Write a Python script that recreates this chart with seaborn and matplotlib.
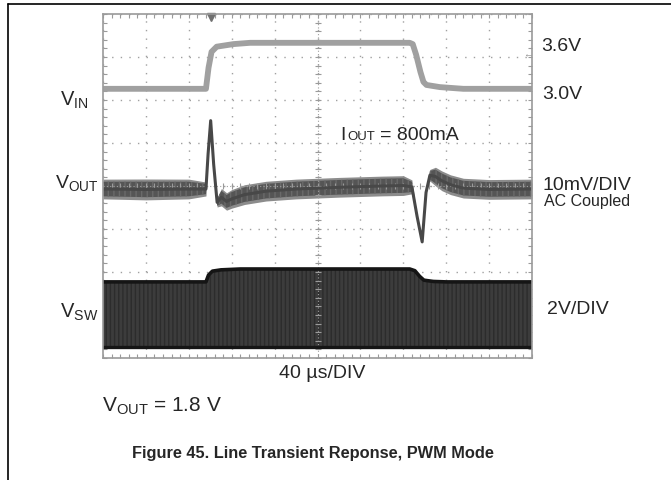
import numpy as np
import matplotlib
matplotlib.use("Agg")
import matplotlib.pyplot as plt
import seaborn as sns
from matplotlib.lines import Line2D

sns.set_style("white")
plt.rcParams['font.family'] = ['Liberation Sans', 'DejaVu Sans']

# ---- traces, in scope divisions (x: 0-10 div, y: 0-8 div) ----
t_vin = [0, 2.40, 2.46, 2.53, 2.65, 3.04, 3.43, 7.15, 7.22, 7.30, 7.40, 7.47, 7.54, 7.85, 8.4, 10]
v_vin = [6.26, 6.26, 6.75, 7.12, 7.24, 7.30, 7.33, 7.33, 7.30, 7.05, 6.65, 6.42, 6.35, 6.30, 6.26, 6.26]

t_out = [0, 1.0, 2.0, 2.40, 2.45, 2.51, 2.58, 2.66, 2.76, 2.88, 3.00, 3.3, 3.8, 4.5, 5.5,
         6.5, 7.0, 7.20, 7.32, 7.44, 7.53, 7.62, 7.75, 7.90, 8.1, 8.4, 9.0, 10]
v_out = [3.93, 3.92, 3.93, 3.93, 4.75, 5.52, 4.50, 3.62, 3.74, 3.64, 3.70, 3.80, 3.88, 3.93, 3.97,
         4.00, 4.01, 3.98, 3.30, 2.70, 3.85, 4.25, 4.22, 4.12, 4.03, 3.95, 3.92, 3.93]
out_noise = [0.17, 0.18, 0.17, 0.12, 0, 0, 0, 0.08, 0.15, 0.15, 0.16, 0.17, 0.17, 0.17, 0.17,
             0.17, 0.17, 0.12, 0, 0, 0, 0.10, 0.16, 0.17, 0.17, 0.17, 0.17, 0.17]

t_sw = [0, 2.40, 2.46, 2.55, 2.75, 3.2, 7.15, 7.27, 7.38, 7.48, 7.70, 8.0, 10]
sw_top = [1.77, 1.77, 1.93, 2.02, 2.05, 2.07, 2.07, 2.03, 1.90, 1.81, 1.78, 1.77, 1.77]
sw_bottom = 0.26

trigger_t = 2.52
vin_ref = 7.07

fig = plt.figure(figsize=(6.71, 4.80), dpi=100)
ax = fig.add_axes([103 / 671, 1 - 358 / 480, 429 / 671, 344 / 480])

# graticule
ax.set_xlim(0, 10)
ax.set_ylim(0, 8)
ax.set_xticks(np.arange(0, 11, 1))
ax.set_yticks(np.arange(0, 9, 1))
ax.set_xticks(np.arange(0, 10.01, 0.2), minor=True)
ax.set_yticks(np.arange(0, 8.01, 0.2), minor=True)
ax.tick_params(which='both', direction='in', length=3, width=0.8, color='#9a9a9a',
               top=True, right=True, bottom=True, left=True,
               labelbottom=False, labelleft=False)
ax.grid(True, which='major', linestyle=(0, (1, 5.2)), color='#a0a0a0', lw=1.0)
for s in ax.spines.values():
    s.set_color('#9a9a9a')
    s.set_linewidth(1.2)
ax.axvline(5, color='#a0a0a0', lw=0.8, ls=(0, (1, 2)))
ax.axhline(4, color='#a0a0a0', lw=0.8, ls=(0, (1, 2)))
minor_x = np.arange(0, 10.01, 0.2)
minor_y = np.arange(0, 8.01, 0.2)
ax.plot(np.full_like(minor_y, 5), minor_y, ls='none', marker='_', ms=4, mew=0.8, color='#9a9a9a')
ax.plot(minor_x, np.full_like(minor_x, 4), ls='none', marker='|', ms=4, mew=0.8, color='#9a9a9a')

# VSW switching band
ax.fill_between(t_sw, sw_bottom, sw_top, color='#3c3c3c', lw=0, hatch='||||',
                edgecolor='#2c2c2c')
sns.lineplot(x=t_sw, y=sw_top, ax=ax, color='#151515', lw=2.6, sort=False, estimator=None)
ax.axhline(sw_bottom, color='#151515', lw=2.4)

# VOUT noisy trace: lighter halo, darker core, then the centre line
vo = np.array(v_out)
nz = np.array(out_noise)
ax.fill_between(t_out, vo - 1.35 * nz, vo + 1.35 * nz, color='#8c8c8c', lw=0)
ax.fill_between(t_out, vo - nz, vo + nz, color='#555555', lw=0, hatch='|||',
                edgecolor='#6a6a6a')
sns.lineplot(x=t_out, y=v_out, ax=ax, color='#484848', lw=2.2, sort=False, estimator=None)

# VIN trace
sns.lineplot(x=t_vin, y=v_vin, ax=ax, color='#a0a0a0', lw=4.2, sort=False, estimator=None)

ax.plot(trigger_t, 7.93, marker='v', ms=6, color='#707070', clip_on=False)
ax.text(9.9, vin_ref, '\u2190', color='#909090', fontsize=7, ha='center', va='center')


def px(x, y):
    return x / 671, 1 - y / 480


# channel labels
fig.text(*px(60, 106), r'$\mathregular{V_{IN}}$', fontsize=14.5, va='baseline')
fig.text(*px(55, 188), r'$\mathregular{V_{OUT}}$', fontsize=14, va='baseline')
fig.text(*px(60, 318), r'$\mathregular{V_{SW}}$', fontsize=14.5, va='baseline')

fig.text(*px(541, 51), '3.6V', fontsize=14, va='baseline')
fig.text(*px(542, 99), '3.0V', fontsize=14, va='baseline')
fig.text(*px(543, 190), '10mV/DIV', fontsize=14, va='baseline')
fig.text(*px(544, 206), 'AC Coupled', fontsize=11.5, va='baseline')
fig.text(*px(547, 314), '2V/DIV', fontsize=14, va='baseline')

fig.text(*px(340, 140), 'I', fontsize=14, va='baseline')
fig.text(*px(347, 140), 'OUT', fontsize=9.5, va='baseline')
fig.text(*px(380, 140), '= 800mA', fontsize=14, va='baseline')

fig.text(*px(322, 378), '40 \u00b5s/DIV', fontsize=14, va='baseline', ha='center')
fig.text(*px(102, 412), r'$\mathregular{V_{OUT}}$ = 1.8 V', fontsize=15, va='baseline')
fig.text(*px(313, 458), 'Figure 45. Line Transient Reponse, PWM Mode', fontsize=11.8,
         fontweight='bold', va='baseline', ha='center')

# page frame
fig.add_artist(Line2D([8 / 671, 1], [1 - 4 / 480, 1 - 4 / 480], color='black', lw=1.2))
fig.add_artist(Line2D([8 / 671, 8 / 671], [0, 1 - 4 / 480], color='black', lw=1.2))

fig.savefig("out.png", dpi=100)
